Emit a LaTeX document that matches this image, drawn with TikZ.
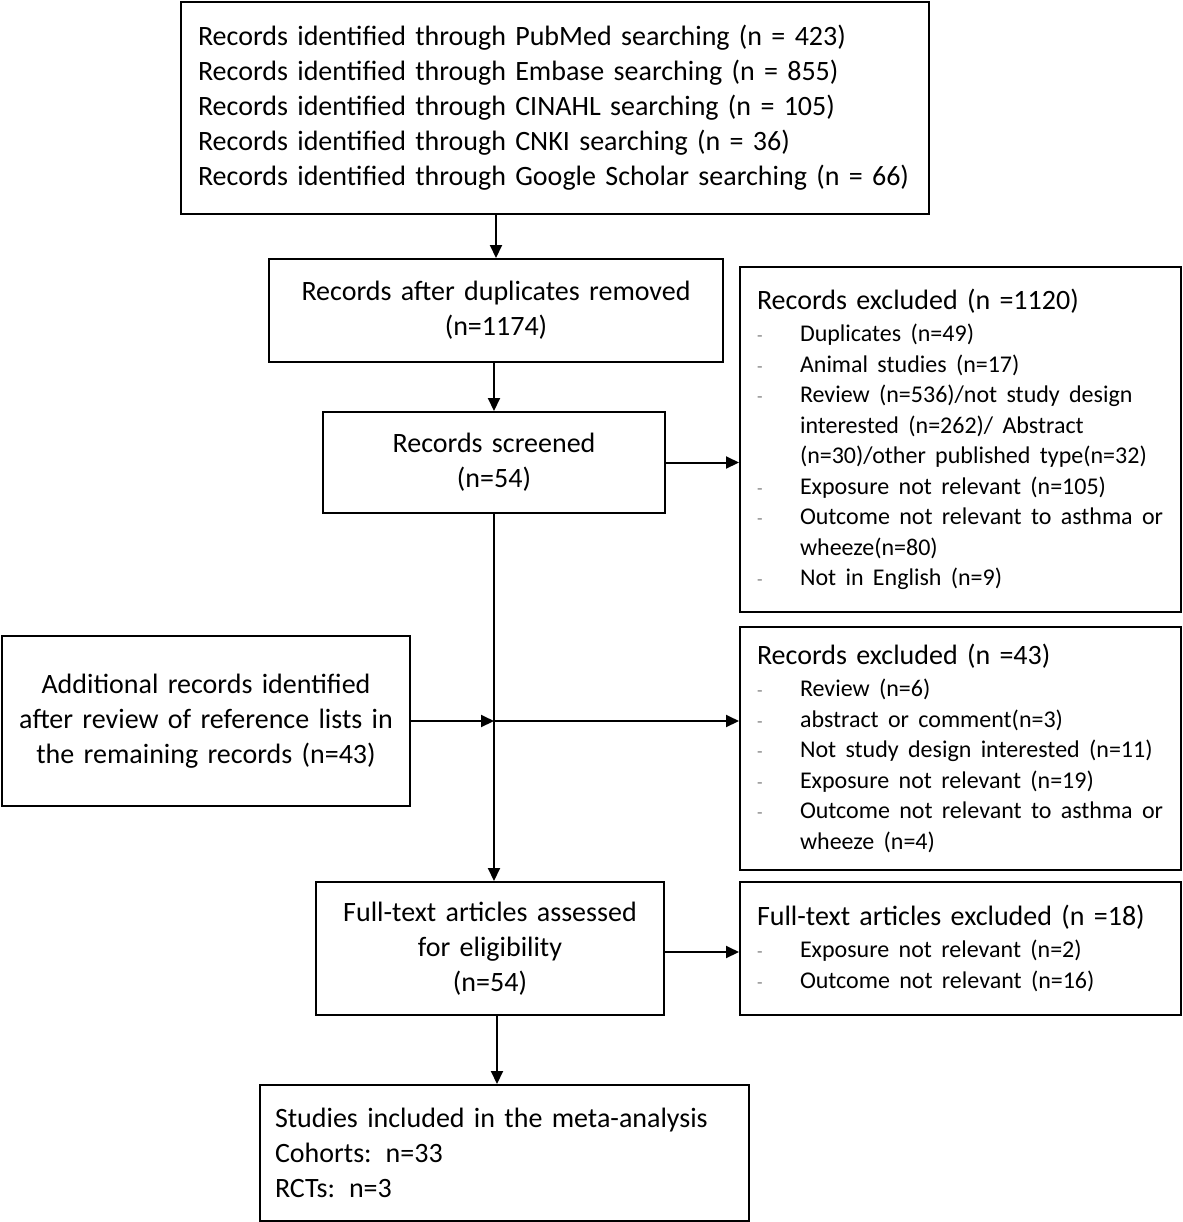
\documentclass[tikz,border=0pt]{standalone}
\usepackage{fontspec}
\setmainfont{Carlito}
\usetikzlibrary{arrows.meta}
\newcommand\mainsz{\fontsize{14}{17.5}\selectfont}
\newcommand\itsz{\fontsize{12}{15.25}\selectfont}
\newcommand\xdash{\makebox[21.5pt][l]{\textcolor{gray}{\fontsize{9}{9}\selectfont -}}}
\newcommand\xit[1]{\par\noindent\xdash\mbox{#1}}
\newcommand\xcont[1]{\par\noindent\hspace*{21.5pt}\mbox{#1}}
\newcommand\xtitle[1]{\noindent\mbox{\mainsz #1}\par\vspace{0.75pt}\itsz}
\begin{document}
\begin{tikzpicture}[x=0.5pt,y=-0.5pt,
  box/.style={draw, line width=1pt, inner xsep=8.5pt, inner ysep=0pt, font=\mainsz},
  arr/.style={line width=1pt, -{Triangle[length=6.5pt,width=6pt]}}]
\useasboundingbox (0,0) rectangle (1183,1222);

\node[box, minimum height=106pt, text width=357pt, align=left] (top) at (555,108)
 {\mbox{Records identified through PubMed searching (n = 423)}\\
  \mbox{Records identified through Embase searching (n = 855)}\\
  \mbox{Records identified through CINAHL searching (n = 105)}\\
  \mbox{Records identified through CNKI searching (n = 36)}\\
  \mbox{Records identified through Google Scholar searching (n = 66)}};

\node[box, minimum height=51.5pt, text width=210pt, align=center] (dup) at (496,310.5)
 {\mbox{Records after duplicates removed}\\\mbox{(n=1174)}};

\node[box, minimum height=50.5pt, text width=154pt, align=center] (scr) at (494,462.5)
 {\mbox{Records screened}\\\mbox{(n=54)}};

\node[box, minimum height=172.5pt, text width=203.5pt, align=left] (ex1) at (960.5,439.5)
 {\xtitle{Records excluded (n =1120)}
  \xit{Duplicates (n=49)}
  \xit{Animal studies (n=17)}
  \xit{Review (n=536)/not study design}
  \xcont{interested (n=262)/ Abstract}
  \xcont{(n=30)/other published type(n=32)}
  \xit{Exposure not relevant (n=105)}
  \xit{Outcome not relevant to asthma or}
  \xcont{wheeze(n=80)}
  \xit{Not in English (n=9)}\par};

\node[box, minimum height=85pt, text width=187pt, align=center] (add) at (206,721)
 {\mbox{Additional records identified}\\\mbox{after review of reference lists in}\\\mbox{the remaining records (n=43)}};

\node[box, minimum height=121.5pt, text width=203.5pt, align=left] (ex2) at (960.5,748.5)
 {\xtitle{Records excluded (n =43)}
  \xit{Review (n=6)}
  \xit{abstract or comment(n=3)}
  \xit{Not study design interested (n=11)}
  \xit{Exposure not relevant (n=19)}
  \xit{Outcome not relevant to asthma or}
  \xcont{wheeze (n=4)}\par};

\node[box, minimum height=66.5pt, text width=157pt, align=center] (full) at (490,948.5)
 {\mbox{Full-text articles assessed}\\\mbox{for eligibility}\\\mbox{(n=54)}};

\node[box, minimum height=66.5pt, text width=203.5pt, align=left] (ex3) at (960.5,948.5)
 {\xtitle{Full-text articles excluded (n =18)}
  \xit{Exposure not relevant (n=2)}
  \xit{Outcome not relevant (n=16)}\par};

\node[box, inner xsep=7.5pt, minimum height=68pt, text width=229.5pt, align=left] (inc) at (504.5,1153)
 {\mbox{Studies included in the meta-analysis}\\\mbox{Cohorts: n=33}\\\mbox{RCTs: n=3}};

\coordinate (j) at (scr.south |- add.east);

\draw[arr] (dup.north |- top.south) -- (dup.north);
\draw[arr] (scr.north |- dup.south) -- (scr.north);
\draw[arr] (scr.east) -- (scr.east -| ex1.west);
\draw[arr] (scr.south) -- (scr.south |- full.north);
\draw[arr] (add.east) -- (j);
\draw[arr] (j) -- (j -| ex2.west);
\draw[arr] ([yshift=-1.75pt]full.east) -- ([yshift=-1.75pt]full.east -| ex3.west);
\draw[arr] ([xshift=3.5pt]full.south) -- ([xshift=3.5pt]full.south |- inc.north);
\end{tikzpicture}
\end{document}
